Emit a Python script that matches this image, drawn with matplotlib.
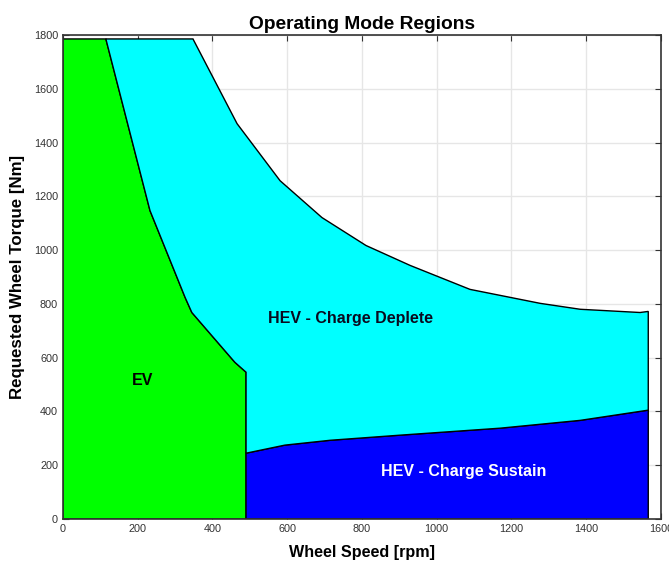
import numpy as np
import matplotlib.pyplot as plt

# Region boundaries (wheel speed [rpm], wheel torque [Nm])
ev_speed = [0, 115, 233, 327, 345, 460, 490]
ev_torque = [1785, 1785, 1147, 824, 768, 583, 546]

cd_speed = [348, 466, 581, 693, 811, 929, 1089, 1277, 1384, 1544, 1566]
cd_torque = [1785, 1470, 1258, 1121, 1017, 943, 854, 802, 780, 768, 772]

cs_speed = [490, 594, 715, 902, 1170, 1384, 1566]
cs_torque = [245, 275, 293, 312, 338, 367, 405]

plt.rcParams['font.family'] = ['Liberation Sans', 'DejaVu Sans']

fig = plt.figure(figsize=(6.69, 5.63), dpi=100)
ax = fig.add_axes([0.094, 0.078, 0.894, 0.860])

# EV region
ev_x = [0] + ev_speed + [ev_speed[-1]]
ev_y = [0] + ev_torque + [0]
ax.fill(ev_x, ev_y, facecolor='#00ff00', edgecolor='black', linewidth=1, zorder=2)

# charge sustain region
cs_x = [cs_speed[0]] + cs_speed + [cs_speed[-1]]
cs_y = [0] + cs_torque + [0]
ax.fill(cs_x, cs_y, facecolor='#0000ff', edgecolor='black', linewidth=1, zorder=2)

# charge deplete region: between EV / sustain and the upper curve
cd_x = ev_speed[1:] + cs_speed + cd_speed[::-1]
cd_y = ev_torque[1:] + cs_torque + cd_torque[::-1]
ax.fill(cd_x, cd_y, facecolor='#00ffff', edgecolor='black', linewidth=1, zorder=2)

ax.text(214, 516, 'EV', ha='center', va='center', fontsize=11.5, fontweight='bold', zorder=3)
ax.text(770, 746, 'HEV - Charge Deplete', ha='center', va='center', fontsize=11.5,
        fontweight='bold', color='#0a0a1e', zorder=3)
ax.text(1071, 178, 'HEV - Charge Sustain', ha='center', va='center', fontsize=11.5,
        fontweight='bold', color='white', zorder=3)

ax.set_xlim(0, 1600)
ax.set_ylim(0, 1800)
ax.set_xticks(np.arange(0, 1601, 200))
ax.set_yticks(np.arange(0, 1801, 200))
ax.grid(True, color='#e6e6e6', linewidth=1, zorder=0)
ax.set_axisbelow(True)
ax.tick_params(direction='in', top=True, right=True, labelsize=7.8,
               labelcolor='#333333', color='#333333', length=4)
for sp in ax.spines.values():
    sp.set_color('#333333')
    sp.set_linewidth(1.2)

ax.set_title('Operating Mode Regions', fontsize=13.8, fontweight='bold', pad=4.5)
ax.set_xlabel('Wheel Speed [rpm]', fontsize=11.6, fontweight='bold', labelpad=8)
ax.set_ylabel('Requested Wheel Torque [Nm]', fontsize=12.2, fontweight='bold', labelpad=6)

fig.savefig('out.png', dpi=100)
